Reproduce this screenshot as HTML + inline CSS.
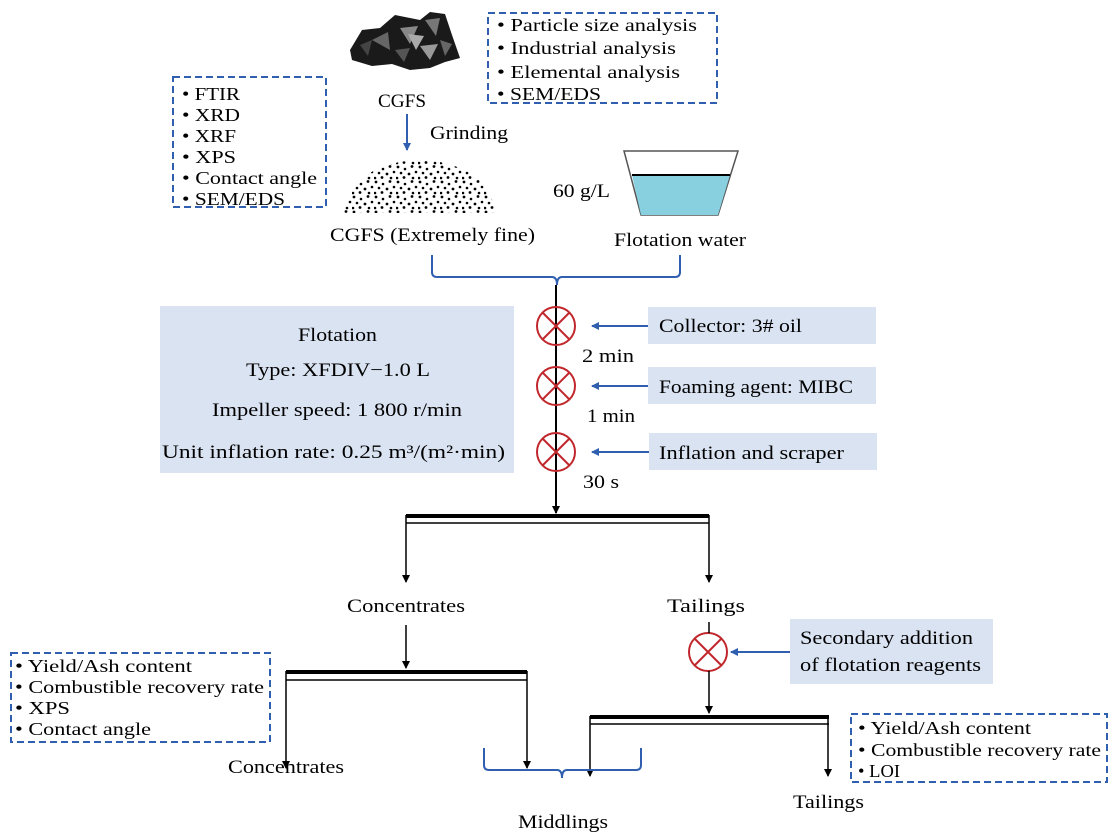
<!DOCTYPE html>
<html><head><meta charset="utf-8"><style>
html,body{margin:0;padding:0;background:#fff;}
svg{display:block;font-family:"Liberation Serif",serif;}
</style></head><body>
<svg width="1118" height="835" viewBox="0 0 1118 835" xmlns="http://www.w3.org/2000/svg">
<defs>
<marker id="ab" markerWidth="8" markerHeight="8" refX="7" refY="4" orient="auto" markerUnits="userSpaceOnUse"><path d="M0,0 L8,4 L0,8 z" fill="#2f5fae"/></marker>
<marker id="ak" markerWidth="8" markerHeight="8" refX="7" refY="4" orient="auto" markerUnits="userSpaceOnUse"><path d="M0,0 L8,4 L0,8 z" fill="#000"/></marker>
<pattern id="dp" width="22" height="15" patternUnits="userSpaceOnUse">
<circle cx="2" cy="2" r="1.4"/><circle cx="9" cy="4" r="1.3"/><circle cx="16" cy="1.5" r="1.4"/><circle cx="5" cy="8" r="1.3"/><circle cx="13" cy="9" r="1.4"/><circle cx="20" cy="7" r="1.3"/><circle cx="1" cy="13" r="1.3"/><circle cx="8" cy="12.5" r="1.4"/><circle cx="17" cy="13" r="1.3"/><circle cx="11" cy="15" r="0"/>
</pattern>
</defs>
<!-- coal -->
<polygon points="350,50 362,30 380,28 395,15 420,20 430,12 445,14 452,35 460,58 445,62 430,68 410,70 392,64 372,66 352,60" fill="#1a1a1a"/>
<polygon points="372,40 388,32 390,50" fill="#666"/><polygon points="400,28 418,26 410,44" fill="#888"/>
<polygon points="425,20 440,18 436,36" fill="#777"/><polygon points="395,50 410,48 404,62" fill="#555"/>
<polygon points="420,46 438,44 430,60" fill="#999"/><polygon points="440,40 452,44 445,56" fill="#666"/>
<polygon points="360,45 372,40 368,56" fill="#444"/><polygon points="408,34 424,36 416,50" fill="#aaa"/>
<text x="378" y="107" font-size="19" textLength="48" lengthAdjust="spacingAndGlyphs">CGFS</text>
<line x1="407" y1="114" x2="407" y2="150" stroke="#2f5fae" stroke-width="2" marker-end="url(#ab)"/>
<text x="430" y="139" font-size="19" textLength="78" lengthAdjust="spacingAndGlyphs">Grinding</text>
<path d="M343,213 Q350,180 380,168 Q419,152 460,168 Q492,182 495,213 Z" fill="url(#dp)"/>
<text x="330" y="241" font-size="19" textLength="205" lengthAdjust="spacingAndGlyphs">CGFS (Extremely fine)</text>
<!-- beaker -->
<polygon points="624,151 738,151 718,215 641,215" fill="#fff" stroke="#555" stroke-width="1.5"/>
<polygon points="632,175 730,175 718,215 641,215" fill="#88cfe0"/>
<line x1="632" y1="175" x2="730" y2="175" stroke="#000" stroke-width="2"/>
<text x="553" y="197" font-size="19" textLength="57" lengthAdjust="spacingAndGlyphs">60 g/L</text>
<text x="614" y="246" font-size="19" textLength="132" lengthAdjust="spacingAndGlyphs">Flotation water</text>
<path d="M432,255 V272 Q432,277 437,277 H552 Q557,277 557,285 Q557,277 562,277 H675 Q680,277 680,272 V255" fill="none" stroke="#2f5fae" stroke-width="2"/>
<!-- dashed boxes -->
<rect x="173" y="77" width="153" height="130" fill="none" stroke="#2f5fae" stroke-width="2" stroke-dasharray="7,4"/>
<g font-size="18"><text x="182" y="100" textLength="58" lengthAdjust="spacingAndGlyphs">• FTIR</text><text x="182" y="121" textLength="58" lengthAdjust="spacingAndGlyphs">• XRD</text><text x="182" y="142" textLength="54" lengthAdjust="spacingAndGlyphs">• XRF</text><text x="182" y="163" textLength="54" lengthAdjust="spacingAndGlyphs">• XPS</text><text x="182" y="184" textLength="135" lengthAdjust="spacingAndGlyphs">• Contact angle</text><text x="182" y="205" textLength="103" lengthAdjust="spacingAndGlyphs">• SEM/EDS</text></g>
<rect x="488" y="13" width="229" height="90" fill="none" stroke="#2f5fae" stroke-width="2" stroke-dasharray="7,4"/>
<g font-size="18"><text x="497" y="31" textLength="200" lengthAdjust="spacingAndGlyphs">• Particle size analysis</text><text x="497" y="54" textLength="179" lengthAdjust="spacingAndGlyphs">• Industrial analysis</text><text x="497" y="78" textLength="183" lengthAdjust="spacingAndGlyphs">• Elemental analysis</text><text x="497" y="100" textLength="104" lengthAdjust="spacingAndGlyphs">• SEM/EDS</text></g>
<!-- main line -->
<line x1="556" y1="285" x2="556" y2="513" stroke="#000" stroke-width="2" marker-end="url(#ak)"/>
<g stroke="#c0282d" stroke-width="2" fill="none">
<circle cx="556" cy="326" r="19"/><line x1="543" y1="313" x2="569" y2="339"/><line x1="569" y1="313" x2="543" y2="339"/>
<circle cx="556" cy="386" r="19"/><line x1="543" y1="373" x2="569" y2="399"/><line x1="569" y1="373" x2="543" y2="399"/>
<circle cx="556" cy="452" r="19"/><line x1="543" y1="439" x2="569" y2="465"/><line x1="569" y1="439" x2="543" y2="465"/>
<circle cx="708" cy="652" r="19"/><line x1="695" y1="639" x2="721" y2="665"/><line x1="721" y1="639" x2="695" y2="665"/>
</g>
<rect x="160" y="306" width="354" height="167" fill="#dae3f2"/>
<g font-size="19"><text x="298" y="341" textLength="79" lengthAdjust="spacingAndGlyphs">Flotation</text><text x="246" y="376" textLength="184" lengthAdjust="spacingAndGlyphs">Type: XFDIV−1.0 L</text><text x="212" y="416" textLength="250" lengthAdjust="spacingAndGlyphs">Impeller speed: 1 800 r/min</text><text x="162" y="458" textLength="343" lengthAdjust="spacingAndGlyphs">Unit inflation rate:  0.25 m³/(m²·min)</text></g>
<rect x="648" y="307" width="228" height="37" fill="#dae3f2"/><text x="659" y="332" font-size="19" textLength="143" lengthAdjust="spacingAndGlyphs">Collector: 3# oil</text>
<rect x="648" y="367" width="228" height="37" fill="#dae3f2"/><text x="659" y="393" font-size="19" textLength="194" lengthAdjust="spacingAndGlyphs">Foaming agent: MIBC</text>
<rect x="649" y="433" width="228" height="37" fill="#dae3f2"/><text x="659" y="459" font-size="19" textLength="185" lengthAdjust="spacingAndGlyphs">Inflation and scraper</text>
<g stroke="#2f5fae" stroke-width="2"><line x1="648" y1="326" x2="592" y2="326" marker-end="url(#ab)"/><line x1="648" y1="386" x2="592" y2="386" marker-end="url(#ab)"/><line x1="649" y1="452" x2="592" y2="452" marker-end="url(#ab)"/><line x1="790" y1="652" x2="731" y2="652" marker-end="url(#ab)"/></g>
<g font-size="19"><text x="582" y="362" textLength="52" lengthAdjust="spacingAndGlyphs">2 min</text><text x="587" y="422" textLength="48" lengthAdjust="spacingAndGlyphs">1 min</text><text x="583" y="488" textLength="36" lengthAdjust="spacingAndGlyphs">30 s</text></g>
<!-- splitters -->
<g stroke="#000" fill="none">
<line x1="406" y1="516" x2="709" y2="516" stroke-width="4"/><line x1="406" y1="523" x2="709" y2="523" stroke-width="1.5"/>
<line x1="406" y1="515" x2="406" y2="582" stroke-width="1.5" marker-end="url(#ak)"/><line x1="709" y1="515" x2="709" y2="582" stroke-width="1.5" marker-end="url(#ak)"/>
<line x1="406" y1="625" x2="406" y2="668" stroke-width="1.5" marker-end="url(#ak)"/>
<line x1="286" y1="672" x2="527" y2="672" stroke-width="4"/><line x1="286" y1="680" x2="527" y2="680" stroke-width="1.5"/>
<line x1="286" y1="671" x2="286" y2="768" stroke-width="1.5" marker-end="url(#ak)"/><line x1="527" y1="671" x2="527" y2="768" stroke-width="1.5" marker-end="url(#ak)"/>
<line x1="709" y1="622" x2="709" y2="633" stroke-width="1.5"/>
<line x1="709" y1="671" x2="709" y2="713" stroke-width="1.5" marker-end="url(#ak)"/>
<line x1="590" y1="717" x2="829" y2="717" stroke-width="4"/><line x1="590" y1="724" x2="829" y2="724" stroke-width="1.5"/>
<line x1="590" y1="716" x2="590" y2="776" stroke-width="1.5" marker-end="url(#ak)"/><line x1="828" y1="716" x2="828" y2="776" stroke-width="1.5" marker-end="url(#ak)"/>
</g>
<g font-size="19"><text x="347" y="612" textLength="118" lengthAdjust="spacingAndGlyphs">Concentrates</text><text x="667" y="612" textLength="78" lengthAdjust="spacingAndGlyphs">Tailings</text><text x="228" y="773" textLength="116" lengthAdjust="spacingAndGlyphs">Concentrates</text><text x="518" y="828" textLength="90" lengthAdjust="spacingAndGlyphs">Middlings</text><text x="793" y="808" textLength="71" lengthAdjust="spacingAndGlyphs">Tailings</text></g>
<path d="M484,748 V765 Q484,770 489,770 H557 Q562,770 562,778 Q562,770 567,770 H636 Q641,770 641,765 V748" fill="none" stroke="#2f5fae" stroke-width="2"/>
<rect x="790" y="619" width="203" height="65" fill="#dae3f2"/>
<text x="800" y="644" font-size="19" textLength="173" lengthAdjust="spacingAndGlyphs">Secondary addition</text><text x="800" y="671" font-size="19" textLength="181" lengthAdjust="spacingAndGlyphs">of flotation reagents</text>
<rect x="11" y="653" width="259" height="89" fill="none" stroke="#2f5fae" stroke-width="2" stroke-dasharray="7,4"/>
<g font-size="18"><text x="15" y="672" textLength="177" lengthAdjust="spacingAndGlyphs">• Yield/Ash content</text><text x="15" y="693" textLength="249" lengthAdjust="spacingAndGlyphs">• Combustible recovery rate</text><text x="15" y="714" textLength="55" lengthAdjust="spacingAndGlyphs">• XPS</text><text x="15" y="735" textLength="136" lengthAdjust="spacingAndGlyphs">• Contact angle</text></g>
<rect x="851" y="714" width="256" height="68" fill="none" stroke="#2f5fae" stroke-width="2" stroke-dasharray="7,4"/>
<g font-size="18"><text x="858" y="734" textLength="173" lengthAdjust="spacingAndGlyphs">• Yield/Ash content</text><text x="858" y="756" textLength="243" lengthAdjust="spacingAndGlyphs">• Combustible recovery rate</text><text x="858" y="777" textLength="42" lengthAdjust="spacingAndGlyphs">• LOI</text></g>
</svg>
</body></html>
